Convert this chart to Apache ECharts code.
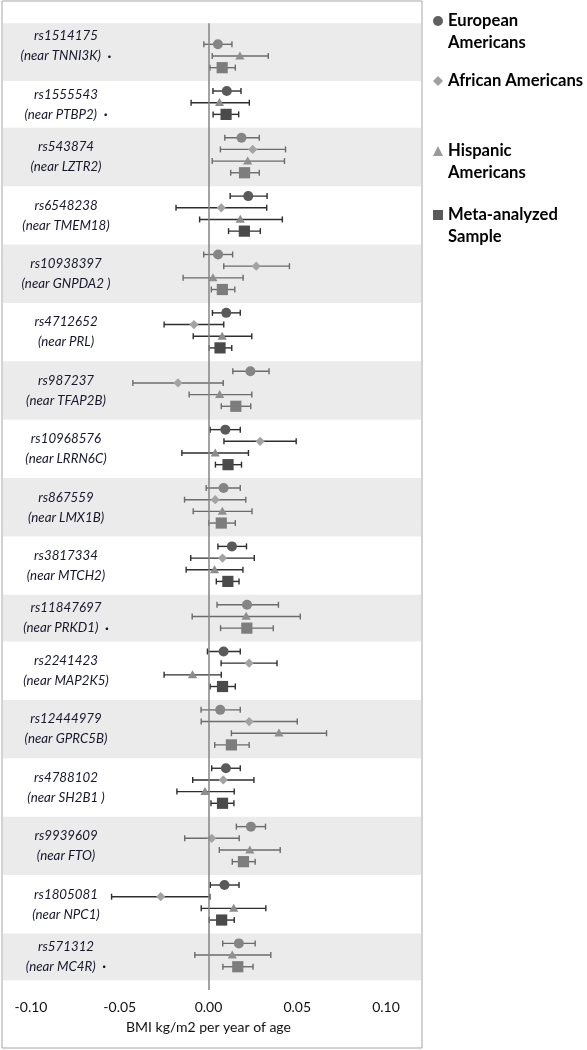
<!DOCTYPE html>
<html>
<head>
<meta charset="utf-8">
<script src="https://cdn.jsdelivr.net/npm/echarts@6/dist/echarts.min.js"></script>
<style>
html,body{margin:0;padding:0;background:#fff;}
#chart{width:587px;height:1050px;}
</style>
</head>
<body>
<div id="chart"></div>
<script>
// ---- DATA ----
const snpIds = ['rs1514175','rs1555543','rs543874','rs6548238','rs10938397','rs4712652','rs987237','rs10968576','rs867559','rs3817334','rs11847697','rs2241423','rs12444979','rs4788102','rs9939609','rs1805081','rs571312'];
const nearGenes = ['TNNI3K','PTBP2','LZTR2','TMEM18','GNPDA2 ','PRL','TFAP2B','LRRN6C','LMX1B','MTCH2','PRKD1','MAP2K5','GPRC5B','SH2B1 ','FTO','NPC1','MC4R'];
const notes = ['\u00b7','\u00b7','','','','','','','','','\u00b7','','','','','','\u00b7'];

const seriesNames = ['European Americans','African Americans','Hispanic Americans','Meta-analyzed Sample'];
const tickLabels = ['-0.10','-0.05','0.00','0.05','0.10'];
const axisTitle = 'BMI kg/m2 per year of age';

// [estimate, lower CI, upper CI]
const european = [
  [0.0053,-0.0026,0.0132],[0.0103,0.0025,0.0183],[0.0186,0.0092,0.0286],[0.0224,0.0122,0.0330],
  [0.0054,-0.0027,0.0136],[0.0100,0.0022,0.0179],[0.0236,0.0137,0.0341],[0.0095,0.0009,0.0179],
  [0.0085,-0.0013,0.0179],[0.0132,0.0053,0.0214],[0.0217,0.0048,0.0394],[0.0085,-0.0006,0.0179],
  [0.0066,-0.0042,0.0179],[0.0098,0.0018,0.0179],[0.0239,0.0157,0.0321],[0.0090,0.0010,0.0172],
  [0.0171,0.0080,0.0263]
];
const african = [
  null,null,[0.0249,0.0067,0.0434],[0.0072,-0.0183,0.0328],
  [0.0269,0.0086,0.0456],[-0.0082,-0.0250,0.0086],[-0.0172,-0.0426,0.0083],[0.0291,0.0087,0.0494],
  [0.0038,-0.0135,0.0210],[0.0079,-0.0100,0.0258],null,[0.0229,0.0071,0.0386],
  [0.0229,-0.0041,0.0500],[0.0083,-0.0089,0.0256],[0.0018,-0.0134,0.0173],[-0.0269,-0.0546,0.0008],
  null
];
const hispanic = [
  [0.0177,0.0021,0.0337],[0.0062,-0.0098,0.0230],[0.0221,0.0021,0.0428],[0.0179,-0.0050,0.0416],
  [0.0025,-0.0143,0.0195],[0.0077,-0.0086,0.0244],[0.0063,-0.0109,0.0244],[0.0038,-0.0150,0.0225],
  [0.0078,-0.0086,0.0245],[0.0034,-0.0126,0.0194],[0.0212,-0.0092,0.0517],[-0.0090,-0.0250,0.0072],
  [0.0397,0.0129,0.0665],[-0.0020,-0.0178,0.0145],[0.0233,0.0061,0.0404],[0.0142,-0.0041,0.0323],
  [0.0134,-0.0077,0.0351]
];
const meta = [
  [0.0077,0.0008,0.0151],[0.0099,0.0026,0.0170],[0.0203,0.0125,0.0286],[0.0202,0.0113,0.0292],
  [0.0078,0.0016,0.0148],[0.0065,0.0004,0.0131],[0.0154,0.0072,0.0238],[0.0110,0.0039,0.0186],
  [0.0072,0.0001,0.0151],[0.0109,0.0044,0.0172],[0.0216,0.0068,0.0365],[0.0079,0.0009,0.0151],
  [0.0129,0.0035,0.0229],[0.0079,0.0014,0.0143],[0.0197,0.0134,0.0263],[0.0074,0.0004,0.0145],
  [0.0165,0.0081,0.0251]
];

// ---- BUILD ----
const groups = [european, african, hispanic, meta];
const slotData = groups.map(() => []);
const bands = [];
let slot = 0;
snpIds.forEach((id, r) => {
  const first = slot;
  groups.forEach((g, gi) => {
    if (g[r]) { slotData[gi].push([g[r][0], g[r][1], g[r][2], slot, r]); slot++; }
  });
  const last = slot - 1;
  const start = r === 0 ? first - 2.85 : bands[r - 1][2];
  bands.push([0, start, last + 1.15, r]);
  slot++;
});
const yMin = -1.8, yMax = slot;  // slot ends at 81

const shapes = ['circle','diamond','triangle','rect'];
const markerColors = {
  band:  ['#858585','#a3a3a3','#8f8f8f','#7d7d7d'],
  white: ['#5a5a5a','#a3a3a3','#8c8c8c','#4a4a4a']
};
const legendColors = ['#606060','#a0a0a0','#9a9a9a','#5a5a5a'];

function markerShape(kind, x, y, fill) {
  if (kind === 'circle') return {type:'circle', shape:{cx:x, cy:y, r:5}, style:{fill}};
  if (kind === 'diamond') return {type:'polygon', shape:{points:[[x,y-4.6],[x+4.6,y],[x,y+4.6],[x-4.6,y]]}, style:{fill}};
  if (kind === 'triangle') return {type:'polygon', shape:{points:[[x,y-4.6],[x+4.6,y+3.4],[x-4.6,y+3.4]]}, style:{fill}};
  return {type:'rect', shape:{x:x-5.6, y:y-5.6, width:11.2, height:11.2}, style:{fill}};
}

function makeRender(gi) {
  return function (params, api) {
    const yv = api.value(3), r = api.value(4);
    const c = api.coord([api.value(0), yv]);
    const lo = api.coord([api.value(1), yv]);
    const hi = api.coord([api.value(2), yv]);
    const banded = r % 2 === 0;
    const stroke = banded ? '#6b6b6b' : '#2e2e2e';
    const fill = (banded ? markerColors.band : markerColors.white)[gi];
    const ls = {stroke, lineWidth: 1.4};
    return {type:'group', children:[
      {type:'line', shape:{x1:lo[0], y1:c[1], x2:hi[0], y2:c[1]}, style:ls},
      {type:'line', shape:{x1:lo[0], y1:c[1]-3, x2:lo[0], y2:c[1]+3}, style:ls},
      {type:'line', shape:{x1:hi[0], y1:c[1]-3, x2:hi[0], y2:c[1]+3}, style:ls},
      markerShape(shapes[gi], c[0], c[1], fill)
    ]};
  };
}

const labelFont = 'Lato';
function bandRender(params, api) {
  const r = api.value(3);
  const p0 = api.coord([0, api.value(1)]);
  const p1 = api.coord([1, api.value(2)]);
  const cs = params.coordSys;
  const children = [];
  if (r % 2 === 0) {
    const rect = echarts.graphic.clipRectByRect(
      {x:p0[0], y:p0[1], width:p1[0]-p0[0], height:p1[1]-p0[1]},
      {x:cs.x, y:cs.y, width:cs.width, height:cs.height});
    if (rect) children.push({type:'rect', shape:rect, style:{fill:'#ebebeb'}});
  }
  const note = notes[r] ? '  {n|' + notes[r] + '}' : '';
  children.push({type:'text', x: cs.x + 63, y: (p0[1] + p1[1]) / 2, z2: 10, style:{
    text: '{a|' + snpIds[r] + '}\n{a|(near ' + nearGenes[r] + ')}' + note,
    align:'center', verticalAlign:'middle',
    rich:{
      a:{fontFamily:labelFont, fontStyle:'italic', fontSize:13.3, lineHeight:20, fill:'#16162c'},
      n:{fontFamily:labelFont, fontWeight:'bold', fontSize:14, lineHeight:20, fill:'#16162c'}
    }
  }});
  return {type:'group', children};
}

const legendTops = [21, 81, 151, 215];
const secondLines = ['Americans', null, 'Americans', 'Sample'];
const firstLines = ['European', 'African Americans', 'Hispanic', 'Meta-analyzed'];
const legendFont = {fontFamily:'Lato', fontWeight:'bold', fontSize:16.6, color:'#000', lineHeight:20};

const legends = seriesNames.map((n, i) => ({
  data:[{name:n, icon:shapes[i], itemStyle:{color:legendColors[i]}}],
  left: 433, top: legendTops[i] - 10, padding: 0,
  itemWidth: 10, itemHeight: 10, itemGap: 6,
  selectedMode: false,
  formatter: () => firstLines[i],
  textStyle: legendFont
}));

const graphics = [
  {type:'rect', shape:{x:2, y:1, width:420, height:1047}, style:{fill:'none', stroke:'#a6a6a6', lineWidth:1}, z:100}
];
secondLines.forEach((t, i) => {
  if (!t) return;
  graphics.push({type:'text', x: 448, y: legendTops[i] + 22, style:{text:t, font:'bold 16.6px Lato', fill:'#000', verticalAlign:'middle'}});
});

const chart = echarts.init(document.getElementById('chart'), null, {renderer:'canvas'});
chart.setOption({
  animation: false,
  backgroundColor: '#fff',
  legend: legends,
  graphic: graphics,
  grid: [
    {left: 3, right: 166, top: 23.3, bottom: 59.9},
    {left: 31, right: 201, top: 23.3, bottom: 59.9}
  ],
  xAxis: [
    {gridIndex:0, type:'value', min:0, max:1, show:false},
    {gridIndex:1, type:'value', min:-0.1, max:0.1, interval:0.05,
     axisLine:{show:true, lineStyle:{color:'#a6a6a6', width:1.5}},
     axisTick:{show:true, length:4, lineStyle:{color:'#a6a6a6', width:1.5}},
     splitLine:{show:false},
     axisLabel:{margin:10, fontFamily:'Lato', fontSize:14, color:'#111',
       formatter:(v) => tickLabels[Math.round((v + 0.1) / 0.05)]},
     name: axisTitle, nameLocation:'middle', nameGap:30,
     nameTextStyle:{fontFamily:'Lato', fontSize:14, color:'#111'}}
  ],
  yAxis: [
    {gridIndex:0, type:'value', min:yMin, max:yMax, inverse:true, show:false},
    {gridIndex:1, type:'value', min:yMin, max:yMax, inverse:true, show:false}
  ],
  series: [
    {type:'custom', name:'bands', xAxisIndex:0, yAxisIndex:0, data:bands, renderItem:bandRender, silent:true, z:1,
     encode:{x:0, y:[1,2]}},
    ...seriesNames.map((n, gi) => ({
      type:'custom', name:n, xAxisIndex:1, yAxisIndex:1, z:3,
      data: slotData[gi], renderItem: makeRender(gi),
      itemStyle:{color:legendColors[gi]},
      encode:{x:[0,1,2], y:3},
      markLine: gi === 0 ? {silent:true, symbol:'none', label:{show:false},
        lineStyle:{color:'#858585', width:1.5, type:'solid'}, data:[{xAxis:0}]} : undefined
    }))
  ]
});
</script>
</body>
</html>
